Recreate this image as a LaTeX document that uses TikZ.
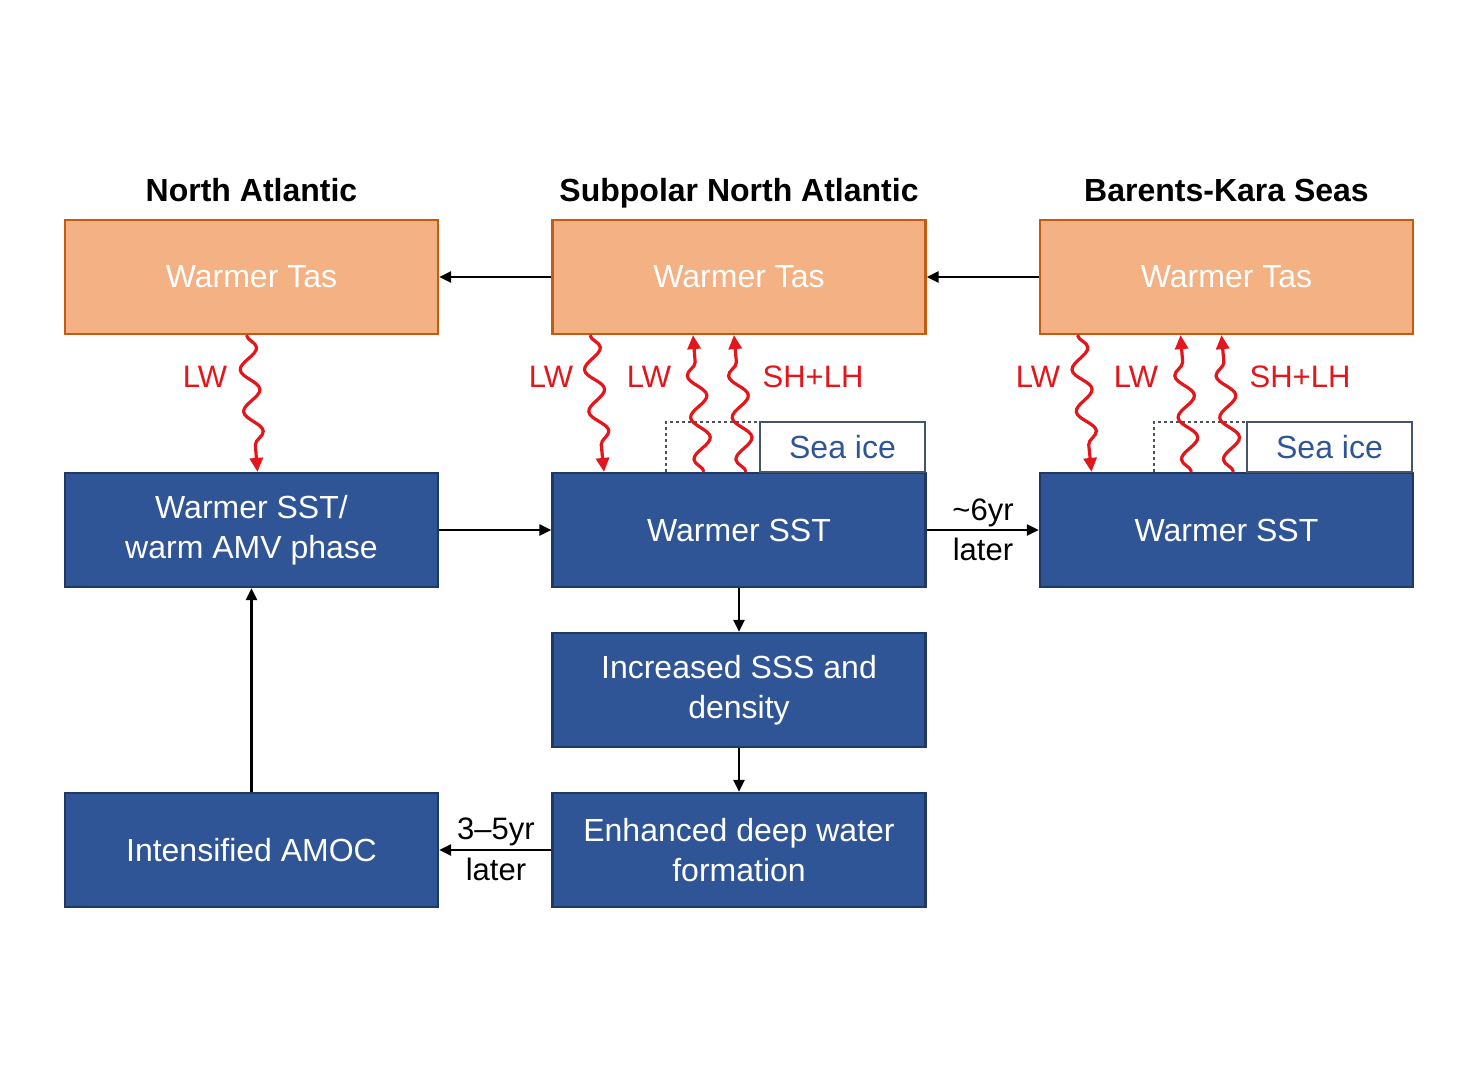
\documentclass[tikz,border=0pt]{standalone}
\usepackage{fontspec}
\setmainfont{Liberation Sans}
\usetikzlibrary{arrows.meta,decorations.pathmorphing,calc}
\definecolor{orfill}{HTML}{F4B183}
\definecolor{ordraw}{HTML}{C55A11}
\definecolor{blfill}{HTML}{2F5597}
\definecolor{bldraw}{HTML}{203864}
\definecolor{icedraw}{HTML}{44546A}
\definecolor{wavered}{HTML}{E2161B}
\definecolor{dotgray}{HTML}{4A5260}
\begin{document}
\begin{tikzpicture}[x=0.5pt,y=-0.5pt,
  boxbase/.style={line width=1.1pt,minimum width=186.5pt,minimum height=57pt,inner sep=0pt,text=white,font=\fontsize{16}{20}\selectfont,align=center},
  obox/.style={boxbase,draw=ordraw,fill=orfill},
  bbox/.style={boxbase,draw=bldraw,fill=blfill},
  icebox/.style={draw=icedraw,fill=white,line width=1.1pt,minimum width=82.5pt,minimum height=25pt,inner sep=0pt,text=blfill,font=\fontsize{16}{20}\selectfont},
  title/.style={font=\fontsize{16}{20}\selectfont\bfseries,text=black,anchor=base},
  lbl/.style={font=\fontsize{15.5}{18}\selectfont,text=black,inner sep=0pt},
  wlbl/.style={font=\fontsize{15.5}{18}\selectfont,text=wavered,inner sep=0pt},
  conn/.style={draw=black,line width=1.3pt,-{Triangle[length=6pt,width=5.5pt]}},
  dotline/.style={draw=dotgray,line width=1.3pt,dash pattern=on 1.6pt off 1.4pt},
  wave/.style={draw=wavered,line width=1.6pt,decorate,decoration={snake,amplitude=4.5pt,segment length=21pt,pre length=0pt,post length=6pt},-{Triangle[length=7pt,width=6.5pt]}}
]
\useasboundingbox (0,0) rectangle (1482,1088);

% titles
\node[title] (tL) at (251.5,201) {North Atlantic};
\node[title] (tM) at (739,201) {Subpolar North Atlantic};
\node[title] (tR) at (1226.5,201) {Barents-Kara Seas};

% orange boxes
\node[obox] (oL) at (251.5,277) {Warmer Tas};
\node[obox] (oM) at (739,277) {Warmer Tas};
\node[obox] (oR) at (1226.5,277) {Warmer Tas};

% blue boxes
\node[bbox] (bL) at (251.5,530) {Warmer SST/\\warm AMV phase};
\node[bbox] (bM) at (739,530) {Warmer SST};
\node[bbox] (bR) at (1226.5,530) {Warmer SST};
\node[bbox] (sss) at (739,690) {Increased SSS and\\density};
\node[bbox] (dwf) at (739,850) {Enhanced deep water\\formation};
\node[bbox] (amoc) at (251.5,850) {Intensified AMOC};

% dotted areas and sea ice boxes
\coordinate (dM1) at (666,472);
\coordinate (dM2) at (666,422);
\coordinate (dM3) at (760,422);
\draw[dotline] (dM1) -- (dM2) -- (dM3);
\coordinate (dR1) at (1154,472);
\coordinate (dR2) at (1154,422);
\coordinate (dR3) at (1247,422);
\draw[dotline] (dR1) -- (dR2) -- (dR3);
\node[icebox] (iceM) at (842.5,447) {Sea ice};
\node[icebox] (iceR) at (1329.5,447) {Sea ice};

% black connectors
\draw[conn] (oM.west) -- (oL.east);
\draw[conn] (oR.west) -- (oM.east);
\draw[conn] (bL.east) -- (bM.west);
\draw[conn] (bM.east) -- (bR.west);
\draw[conn] (bM.south) -- (sss.north);
\draw[conn] (sss.south) -- (dwf.north);
\draw[conn] (dwf.west) -- (amoc.east);
\draw[conn] (amoc.north) -- (bL.south);

\node[lbl] (l6a) at (983,513) {\textasciitilde6yr};
\node[lbl] (l6b) at (983,549) {later};
\node[lbl] (l3a) at (496,832) {3–5yr};
\node[lbl] (l3b) at (496,869) {later};

% wavy arrows
\draw[wave] ($(oL.south)+(-5,0)$) -- ($(bL.north)+(6,0)$);
\draw[wave] ($(oM.south)+(-149,0)$) -- ($(bM.north)+(-135,0)$);
\draw[wave] ($(bM.north)+(-35,0)$) -- ($(oM.south)+(-46,0)$);
\draw[wave] ($(bM.north)+(7,0)$) -- ($(oM.south)+(-5,0)$);
\draw[wave] ($(oR.south)+(-149,0)$) -- ($(bR.north)+(-135,0)$);
\draw[wave] ($(bR.north)+(-35,0)$) -- ($(oR.south)+(-46,0)$);
\draw[wave] ($(bR.north)+(7,0)$) -- ($(oR.south)+(-5,0)$);

% wave labels
\node[wlbl] (wL1) at (205,377) {LW};
\node[wlbl] (wM1) at (551,377) {LW};
\node[wlbl] (wM2) at (649,377) {LW};
\node[wlbl] (wM3) at (813,377) {SH+LH};
\node[wlbl] (wR1) at (1038,377) {LW};
\node[wlbl] (wR2) at (1136,377) {LW};
\node[wlbl] (wR3) at (1300,377) {SH+LH};
\end{tikzpicture}
\end{document}
